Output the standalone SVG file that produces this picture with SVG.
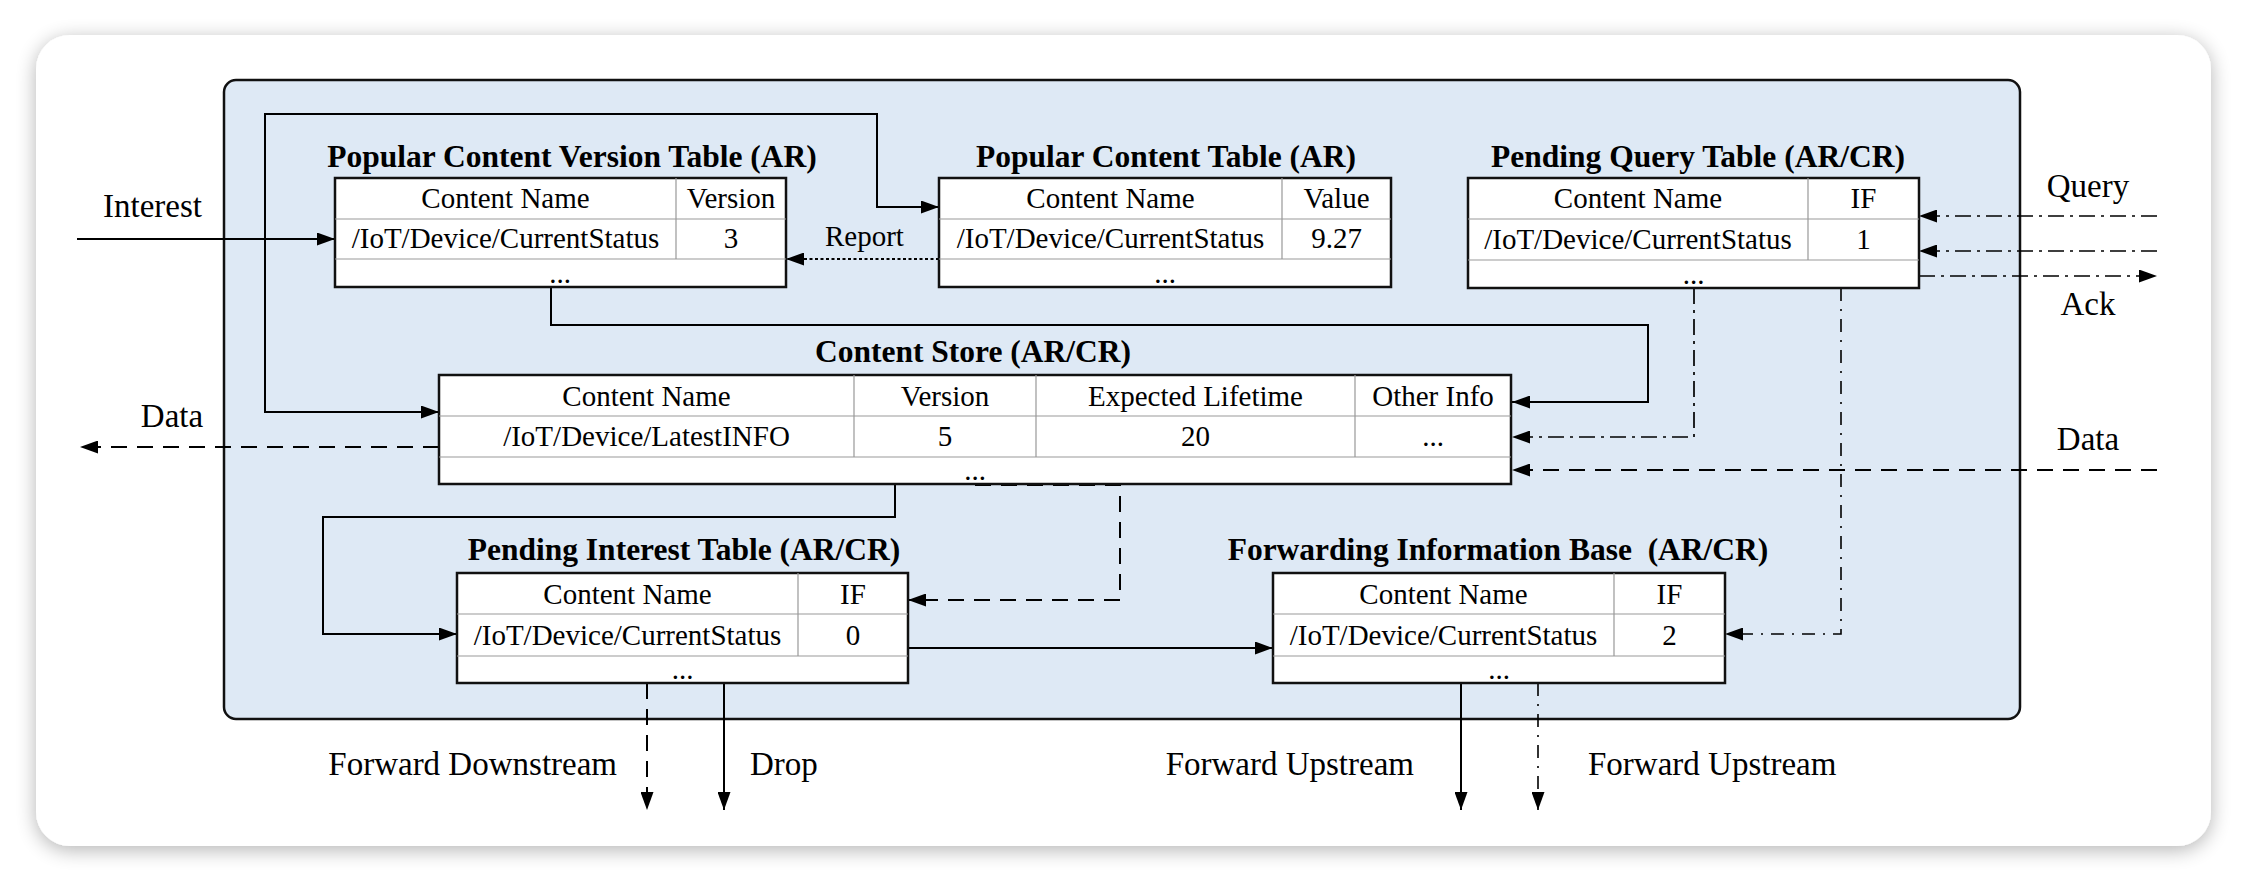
<svg xmlns="http://www.w3.org/2000/svg" width="2248" height="882" viewBox="0 0 2248 882">
<defs>
<filter id="sh" x="-5%" y="-5%" width="110%" height="115%">
<feGaussianBlur in="SourceAlpha" stdDeviation="10"/>
<feOffset dx="0" dy="4"/>
<feComponentTransfer><feFuncA type="linear" slope="0.3"/></feComponentTransfer>
<feMerge><feMergeNode/><feMergeNode in="SourceGraphic"/></feMerge>
</filter>
<marker id="ah" markerUnits="userSpaceOnUse" markerWidth="19" markerHeight="13" refX="18" refY="6.5" orient="auto">
<path d="M0,0 L18,6.5 L0,13 z" fill="#000"/>
</marker>
<style>
.t{font-family:"Liberation Serif","Times New Roman",serif;font-size:29px;fill:#000;text-anchor:middle}
.h{font-family:"Liberation Serif","Times New Roman",serif;font-size:31.5px;font-weight:bold;fill:#000;text-anchor:middle}
.l{font-family:"Liberation Serif","Times New Roman",serif;font-size:33px;fill:#000}
.box{fill:#fff;stroke:#111;stroke-width:2.5}
.grid{stroke:#999;stroke-width:1.2;fill:none}
.c{fill:none;stroke:#000;stroke-width:2}
.dash{stroke-dasharray:16 10}
.dot{stroke-dasharray:3 2.5}
.dd{stroke-dasharray:16 6 3 6;stroke-width:1.7}
.dd2{stroke-dasharray:13 8 2 8;stroke-width:1.6}
</style>
</defs>
<rect x="0" y="0" width="2248" height="882" fill="#fff"/>
<rect x="36" y="35" width="2175" height="811" rx="34" fill="#fff" filter="url(#sh)"/>
<rect id="panel" x="224" y="80" width="1796" height="639" rx="12" fill="#dee9f5" stroke="#111" stroke-width="2.5"/>

<g id="connectors">
<path class="c" d="M77,239 H335" marker-end="url(#ah)"/>
<path class="c" d="M265,239 V114 H877 V207 H939" marker-end="url(#ah)"/>
<path class="c" d="M265,239 V412 H439" marker-end="url(#ah)"/>
<path class="c dot" d="M939,259 H786" marker-end="url(#ah)"/>
<path class="c" d="M551,287 V325 H1648 V402 H1512" marker-end="url(#ah)"/>
<path class="c dd" d="M2157,216 H1919" marker-end="url(#ah)"/>
<path class="c dd" d="M2157,251 H1919" marker-end="url(#ah)"/>
<path class="c dd" d="M1919,276 H2157" marker-end="url(#ah)"/>
<path class="c dd" d="M1694,288 V437 H1512" marker-end="url(#ah)"/>
<path class="c dd2" d="M1841,288 V634 H1725" marker-end="url(#ah)"/>
<path class="c dash" d="M2157,470 H1512" marker-end="url(#ah)"/>
<path class="c dash" d="M439,447 H80" marker-end="url(#ah)"/>
<path class="c" d="M895,484 V517 H323 V634 H457" marker-end="url(#ah)"/>
<path class="c dash" d="M975,485 H1120 V600 H908" marker-end="url(#ah)"/>
<path class="c" d="M908,648 H1273" marker-end="url(#ah)"/>
<path class="c dash" d="M647,683 V810" marker-end="url(#ah)"/>
<path class="c" d="M724,683 V810" marker-end="url(#ah)"/>
<path class="c" d="M1461,683 V810" marker-end="url(#ah)"/>
<path class="c dd2" d="M1538,683 V810" marker-end="url(#ah)"/>
</g>

<g id="pcvt">
<text class="h" x="572" y="167">Popular Content Version Table (AR)</text>
<rect class="box" x="335" y="178" width="451" height="109"/>
<path class="grid" d="M335,219 H786 M335,259 H786 M676,178 V259"/>
<text class="t" x="505.5" y="208">Content Name</text>
<text class="t" x="731" y="208">Version</text>
<text class="t" x="505.5" y="248">/IoT/Device/CurrentStatus</text>
<text class="t" x="731" y="248">3</text>
<text class="t" x="560" y="283">...</text>
</g>

<g id="pct">
<text class="h" x="1166" y="167">Popular Content Table (AR)</text>
<rect class="box" x="939" y="178" width="452" height="109"/>
<path class="grid" d="M939,219 H1391 M939,259 H1391 M1282,178 V259"/>
<text class="t" x="1110.5" y="208">Content Name</text>
<text class="t" x="1336.5" y="208">Value</text>
<text class="t" x="1110.5" y="248">/IoT/Device/CurrentStatus</text>
<text class="t" x="1336.5" y="248">9.27</text>
<text class="t" x="1165" y="283">...</text>
</g>

<g id="pqt">
<text class="h" x="1698" y="167">Pending Query Table (AR/CR)</text>
<rect class="box" x="1468" y="178" width="451" height="110"/>
<path class="grid" d="M1468,219 H1919 M1468,260 H1919 M1808,178 V260"/>
<text class="t" x="1638" y="208">Content Name</text>
<text class="t" x="1863.5" y="208">IF</text>
<text class="t" x="1638" y="249">/IoT/Device/CurrentStatus</text>
<text class="t" x="1863.5" y="249">1</text>
<text class="t" x="1693.5" y="284">...</text>
</g>

<g id="cs">
<text class="h" x="973" y="362">Content Store (AR/CR)</text>
<rect class="box" x="439" y="375" width="1072" height="109"/>
<path class="grid" d="M439,416 H1511 M439,457 H1511 M854,375 V457 M1036,375 V457 M1355,375 V457"/>
<text class="t" x="646.5" y="406">Content Name</text>
<text class="t" x="945" y="406">Version</text>
<text class="t" x="1195.5" y="406">Expected Lifetime</text>
<text class="t" x="1433" y="406">Other Info</text>
<text class="t" x="646.5" y="446">/IoT/Device/LatestINFO</text>
<text class="t" x="945" y="446">5</text>
<text class="t" x="1195.5" y="446">20</text>
<text class="t" x="1433" y="446">...</text>
<text class="t" x="975" y="480">...</text>
</g>

<g id="pit">
<text class="h" x="684" y="560">Pending Interest Table (AR/CR)</text>
<rect class="box" x="457" y="573" width="451" height="110"/>
<path class="grid" d="M457,614 H908 M457,656 H908 M798,573 V656"/>
<text class="t" x="627.5" y="604">Content Name</text>
<text class="t" x="853" y="604">IF</text>
<text class="t" x="627.5" y="645">/IoT/Device/CurrentStatus</text>
<text class="t" x="853" y="645">0</text>
<text class="t" x="682.5" y="679">...</text>
</g>

<g id="fib">
<text class="h" x="1498" y="560" xml:space="preserve">Forwarding Information Base  (AR/CR)</text>
<rect class="box" x="1273" y="573" width="452" height="110"/>
<path class="grid" d="M1273,614 H1725 M1273,656 H1725 M1614,573 V656"/>
<text class="t" x="1443.5" y="604">Content Name</text>
<text class="t" x="1669.5" y="604">IF</text>
<text class="t" x="1443.5" y="645">/IoT/Device/CurrentStatus</text>
<text class="t" x="1669.5" y="645">2</text>
<text class="t" x="1499" y="679">...</text>
</g>

<g id="labels">
<text class="l" x="103" y="217">Interest</text>
<text class="t" x="825" y="246" style="text-anchor:start">Report</text>
<text class="l" x="2088" y="197" text-anchor="middle">Query</text>
<text class="l" x="2088" y="315" text-anchor="middle">Ack</text>
<text class="l" x="2088" y="450" text-anchor="middle">Data</text>
<text class="l" x="172" y="427" text-anchor="middle">Data</text>
<text class="l" x="617" y="775" text-anchor="end">Forward Downstream</text>
<text class="l" x="750" y="775">Drop</text>
<text class="l" x="1414" y="775" text-anchor="end">Forward Upstream</text>
<text class="l" x="1588" y="775">Forward Upstream</text>
</g>
</svg>
